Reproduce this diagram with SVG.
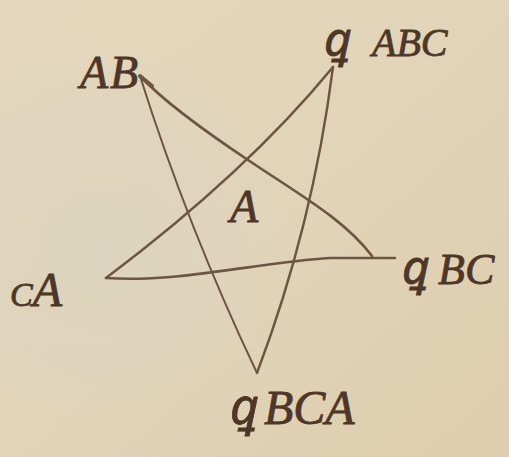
<svg xmlns="http://www.w3.org/2000/svg" width="509" height="457" viewBox="0 0 509 457">
<defs>
<linearGradient id="paper" x1="0" y1="0" x2="1" y2="1">
<stop offset="0" stop-color="#e4d7bd"/>
<stop offset="0.5" stop-color="#e2d4b8"/>
<stop offset="1" stop-color="#decdae"/>
</linearGradient>
<radialGradient id="shade" cx="0.2" cy="0.55" r="0.5">
<stop offset="0" stop-color="#d9d4c2" stop-opacity="0.6"/>
<stop offset="1" stop-color="#d9d4c2" stop-opacity="0"/>
</radialGradient>
<style>
.ink{fill:#4e3628;font-family:'Liberation Serif','DejaVu Serif',serif;font-style:italic;stroke:#4e3628;stroke-width:0.8}
.q{font-family:'DejaVu Serif','Noto Sans',serif}
.line{fill:none;stroke:#6e5443;stroke-linecap:round;stroke-linejoin:round}
</style>
</defs>
<rect width="509" height="457" fill="url(#paper)"/>
<rect width="509" height="457" fill="url(#shade)"/>
<g id="connectors">
<path class="line" stroke-width="2" d="M140,76 Q188,228 257,373"/>
<path class="line" stroke-width="2.4" d="M257,373 Q313,225 333,67"/>
<path class="line" stroke-width="2.6" d="M333,67 Q247,172 106,278"/>
<path class="line" stroke-width="2.6" d="M106,278 C180,283 260,262 330,258 L395,258"/>
<path class="line" stroke-width="2.6" d="M140,76 Q170,108 248,160 C300,195 345,220 372,256"/>
<path class="line" stroke-width="4" d="M140,76 L152,86"/>
</g>
<g id="node-AB"><text class="ink" x="80" y="88" font-size="46" letter-spacing="2">AB</text></g>
<g id="node-ABC"><text class="ink" y="56" font-size="40"><tspan class="q" x="324" font-size="48">ꝗ</tspan><tspan x="372">ABC</tspan></text></g>
<g id="node-BC"><text class="ink" y="284" font-size="44"><tspan class="q" x="402" font-size="48">ꝗ</tspan><tspan x="438">BC</tspan></text></g>
<g id="node-CA"><text class="ink" x="10" y="306" font-size="48"><tspan font-size="34">C</tspan>A</text></g>
<g id="node-BCA"><text class="ink" y="424" font-size="48"><tspan class="q" x="230" font-size="50">ꝗ</tspan><tspan x="264">BCA</tspan></text></g>
<g id="node-A"><text class="ink" x="230" y="222" font-size="46">A</text></g>
</svg>
